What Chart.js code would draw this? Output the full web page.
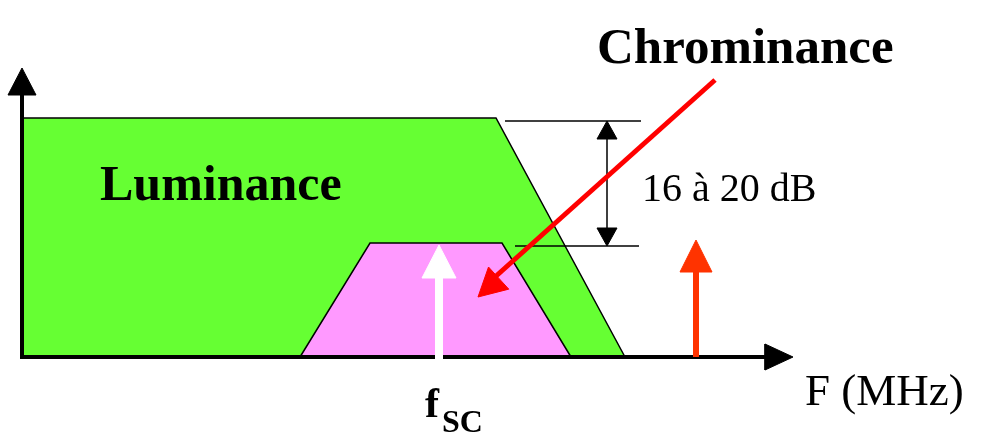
<!DOCTYPE html>
<html>
<head>
<meta charset="utf-8">
<script src="https://cdn.jsdelivr.net/npm/chart.js@4.4.0/dist/chart.umd.min.js"></script>
<style>
  html, body { margin: 0; padding: 0; background: #fff; }
  #wrap { width: 985px; height: 436px; }
</style>
</head>
<body>
<div id="wrap"><canvas id="chart"></canvas></div>
<script>
// x: frequency (diagram units), y: level above the frequency axis
const lumaX = [22, 22, 496, 625];
const lumaY = [0, 239, 239, 0];
const chromaX = [300, 370, 502, 571];
const chromaY = [0, 114, 114, 0];

// carriers: [x, tip level]
const subCarrier = [439, 112];
const soundCarrier = [696, 117];

// 16 to 20 dB gap
const gapLevels = [236, 111];
const gapX = 607;

// pointer from the Chrominance label: [tail, tip]
const pointer = [[715, 277], [478, 60]];

const labels = [
  { text: 'Chrominance', x: 597, y: 294, font: 'bold 51px "Liberation Serif"' },
  { text: 'Luminance', x: 100, y: 157, font: 'bold 50px "Liberation Serif"' },
  { text: '16 à 20 dB', x: 642, y: 156, font: '40px "Liberation Serif"' },
  { text: 'F (MHz)', x: 805, y: -48, font: '45px "Liberation Serif"' },
  { text: 'f', x: 425, y: -60, font: 'bold 42px "Liberation Serif"' },
  { text: 'SC', x: 442, y: -75, font: 'bold 32px "Liberation Serif"' }
];

const pts = (xs, ys) => xs.map((x, i) => ({ x: x, y: ys[i] }));

// triangle for an arrow head pointing at tip, coming from "from"
function head(tip, from, len, half) {
  const dx = tip[0] - from[0], dy = tip[1] - from[1];
  const d = Math.hypot(dx, dy);
  const ux = dx / d, uy = dy / d;
  const bx = tip[0] - ux * len, by = tip[1] - uy * len;
  return [
    { x: tip[0], y: tip[1] },
    { x: bx - uy * half, y: by + ux * half },
    { x: bx + uy * half, y: by - ux * half },
    { x: tip[0], y: tip[1] }
  ];
}

function line(data, color, width) {
  return { data: data, borderColor: color, borderWidth: width, fill: false, pointRadius: 0 };
}
function shape(data, color) {
  return { data: data, borderColor: color, backgroundColor: color, borderWidth: 1, fill: 'shape', pointRadius: 0 };
}

// listed in drawing order (first = bottom)
const layers = [
  { data: pts(lumaX, lumaY), borderColor: '#000', borderWidth: 1.5, backgroundColor: '#66ff33', fill: 'origin', pointRadius: 0 },
  { data: pts(chromaX, chromaY), borderColor: '#000', borderWidth: 1.5, backgroundColor: '#ff99ff', fill: 'origin', pointRadius: 0 },
  line([{ x: 22, y: -2 }, { x: 22, y: 265 }], '#000', 4),
  shape(head([22, 289], [22, 0], 27, 14), '#000'),
  line([{ x: 20, y: 0 }, { x: 770, y: 0 }], '#000', 4),
  shape(head([793, 0], [22, 0], 28, 13), '#000'),
  line([{ x: subCarrier[0], y: -3 }, { x: subCarrier[0], y: subCarrier[1] - 30 }], '#fff', 8),
  shape(head([subCarrier[0], subCarrier[1]], [subCarrier[0], 0], 33, 17), '#fff'),
  line([{ x: soundCarrier[0], y: 0 }, { x: soundCarrier[0], y: soundCarrier[1] - 28 }], '#ff3300', 6),
  shape(head([soundCarrier[0], soundCarrier[1]], [soundCarrier[0], 0], 32, 16), '#ff3300'),
  line([{ x: 505, y: gapLevels[0] }, { x: 641, y: gapLevels[0] }], '#000', 1.5),
  line([{ x: 515, y: gapLevels[1] }, { x: 639, y: gapLevels[1] }], '#000', 1.5),
  line([{ x: gapX, y: gapLevels[0] - 10 }, { x: gapX, y: gapLevels[1] + 10 }], '#000', 1.5),
  shape(head([gapX, gapLevels[0]], [gapX, gapLevels[1]], 18, 10), '#000'),
  shape(head([gapX, gapLevels[1]], [gapX, gapLevels[0]], 18, 10), '#000'),
  line([{ x: pointer[0][0], y: pointer[0][1] }, { x: 495, y: 80 }], '#ff0000', 5),
  shape(head(pointer[1], pointer[0], 28, 15), '#ff0000')
];
layers.forEach((ds, i) => { ds.order = layers.length - i; ds.tension = 0; });

const textPlugin = {
  id: 'texts',
  afterDatasetsDraw(chart) {
    const ctx = chart.ctx;
    const sx = chart.scales.x, sy = chart.scales.y;
    ctx.save();
    ctx.fillStyle = '#000';
    ctx.textBaseline = 'alphabetic';
    labels.forEach(l => {
      ctx.font = l.font;
      ctx.fillText(l.text, sx.getPixelForValue(l.x), sy.getPixelForValue(l.y));
    });
    ctx.restore();
  }
};

new Chart(document.getElementById('chart'), {
  type: 'line',
  data: { datasets: layers },
  options: {
    responsive: true,
    maintainAspectRatio: false,
    animation: false,
    layout: { padding: 0 },
    plugins: { legend: { display: false }, tooltip: { enabled: false } },
    scales: {
      x: { type: 'linear', min: 0, max: 985, display: false },
      y: { type: 'linear', min: -79, max: 357, display: false }
    }
  },
  plugins: [textPlugin]
});
</script>
</body>
</html>
